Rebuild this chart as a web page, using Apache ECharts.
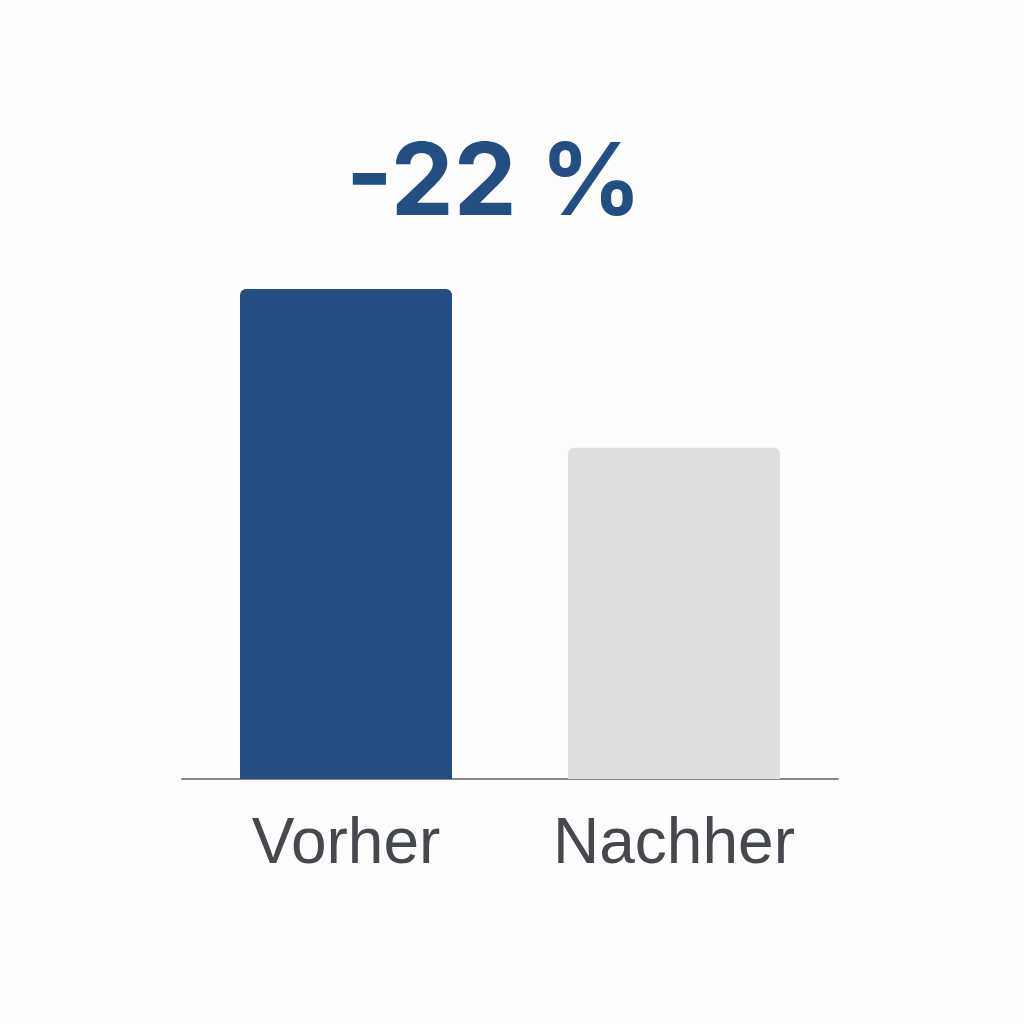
<!DOCTYPE html>
<html>
<head>
<meta charset="utf-8">
<script src="https://cdn.jsdelivr.net/npm/echarts@6/dist/echarts.min.js"></script>
<style>
  html, body { margin: 0; padding: 0; background: #fdfdfd; }
  #chart { width: 1024px; height: 1024px; }
</style>
</head>
<body>
<div id="chart"></div>
<script>
// Werte
const categories = ['Vorher', 'Nachher']
const values = [100, 67.6]
const barColors = ['#234e81', '#dedede']
const headline = '-22 %'

let myChart = echarts.init(document.getElementById('chart'))

let option = {
  backgroundColor: '#fdfdfd',
  animation: false,
  title: {
    text: headline,
    left: 489,
    top: 130,
    textAlign: 'center',
    textStyle: {
      color: '#234e81',
      fontSize: 100,
      fontWeight: 'bold',
      fontFamily: 'Inter, sans-serif'
    }
  },
  grid: {
    left: 182,
    right: 186,
    top: 779 - 490,
    bottom: 245
  },
  xAxis: {
    type: 'category',
    data: categories,
    axisTick: { show: false },
    axisLine: {
      lineStyle: { color: '#888888', width: 2 }
    },
    axisLabel: {
      color: '#45494e',
      fontSize: 64,
      fontFamily: 'Liberation Sans',
      margin: 34
    }
  },
  yAxis: {
    type: 'value',
    min: 0,
    max: 100,
    show: false
  },
  series: [
    {
      type: 'bar',
      barWidth: 212,
      data: values.map(function (v, i) {
        return { value: v, itemStyle: { color: barColors[i] } }
      }),
      itemStyle: {
        borderRadius: [6, 6, 0, 0]
      }
    }
  ]
}

myChart.setOption(option)
</script>
</body>
</html>
